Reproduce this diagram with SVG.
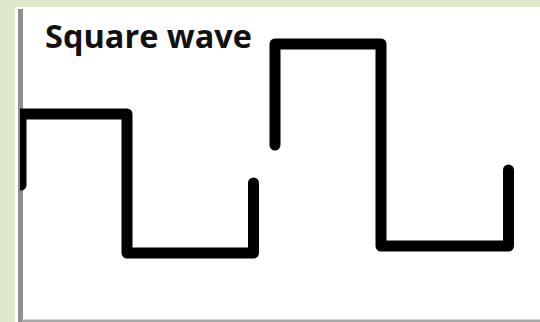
<svg xmlns="http://www.w3.org/2000/svg" width="540" height="322" viewBox="0 0 540 322">
<style>
.wave{fill:none;stroke:#000;stroke-width:11;stroke-linecap:round;stroke-linejoin:round}
.title{font-family:"Open Sans","Liberation Sans",sans-serif;font-weight:bold;font-size:32px;fill:#111}
</style>
<defs><clipPath id="panel"><rect x="20" y="7" width="520" height="313"/></clipPath></defs>
<rect x="0" y="0" width="540" height="322" fill="#dfe8cb"/>
<rect x="15" y="7" width="525" height="315" fill="#fff"/>
<rect x="18" y="9" width="5" height="313" fill="#8f8f8f"/>
<rect x="22" y="319.5" width="518" height="2.5" fill="#a8a8a8"/>
<g id="title"><text class="title" x="45" y="48" textLength="207" lengthAdjust="spacingAndGlyphs">Square wave</text></g>
<g id="wave1" clip-path="url(#panel)"><path class="wave" d="M21 185 V114 H127 V253 H253.5 V183"/></g>
<g id="wave2"><path class="wave" d="M275 145 V44 H381 V246 H508.5 V170"/></g>
</svg>
